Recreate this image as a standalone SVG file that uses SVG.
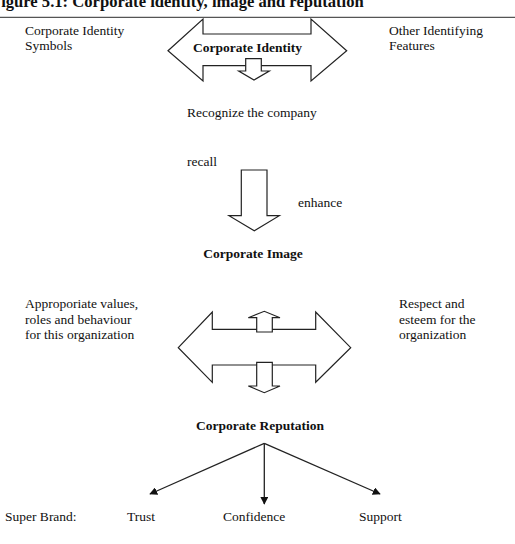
<svg xmlns="http://www.w3.org/2000/svg" width="515" height="544" viewBox="0 0 515 544">
<style>
.t{font-family:"Liberation Serif","Times New Roman",serif;font-size:13.5px;fill:#111}
.b{font-weight:bold}
.sh{fill:#fff;stroke:#222;stroke-width:1.2;stroke-linejoin:miter}
.c{stroke:#222;stroke-width:1.3;fill:none}
</style>
<defs>
<marker id="ah" viewBox="0 0 10 10" refX="9" refY="5" markerWidth="8" markerHeight="8" markerUnits="userSpaceOnUse" orient="auto">
<path d="M0,0 L10,5 L0,10 Z" fill="#111"/>
</marker>
</defs>
<rect width="515" height="544" fill="#fff"/>
<text class="t b" x="-9" y="7" style="font-size:16.6px">Figure 5.1: Corporate identity, image and reputation</text>

<g id="identity">
<path class="sh" d="M168,50.7 L203,19 L203,34 L311,34 L311,19 L346.7,50.7 L311,81 L311,65.7 L203,65.7 L203,81 Z"/>
<path class="sh" d="M245.7,58.7 L261.3,58.7 L261.3,71 L269.3,71 L254,80 L238.7,71 L245.7,71 Z"/>
<text class="t b" x="247.5" y="52" text-anchor="middle">Corporate Identity</text>
</g>
<line x1="0" y1="17.3" x2="515" y2="17.3" stroke="#555" stroke-width="1.3"/>

<g id="symbols"><text class="t" x="25" y="35">Corporate Identity</text><text class="t" x="25" y="50">Symbols</text></g>
<g id="features"><text class="t" x="389" y="35">Other Identifying</text><text class="t" x="389" y="50">Features</text></g>
<g id="recognize"><text class="t" x="187" y="117">Recognize the company</text></g>
<g id="recall"><text class="t" x="187" y="166">recall</text></g>
<g id="enhance"><text class="t" x="298" y="207">enhance</text></g>

<g id="bigarrow">
<path class="sh" d="M241.3,170 L267,170 L267,215.7 L279.3,215.7 L254.3,230.7 L229,215.7 L241.3,215.7 Z"/>
</g>

<g id="image"><text class="t b" x="253" y="258" text-anchor="middle">Corporate Image</text></g>

<g id="values"><text class="t" x="25" y="308">Approporiate values,</text><text class="t" x="25" y="324">roles and behaviour</text><text class="t" x="25" y="339">for this organization</text></g>
<g id="respect"><text class="t" x="399" y="308">Respect and</text><text class="t" x="399" y="324">esteem for the</text><text class="t" x="399" y="339">organization</text></g>

<g id="imagearrow">
<path class="sh" d="M178.3,347.7 L212.3,312 L212.3,329.3 L315.7,329.3 L315.7,312 L350.7,347.7 L315.7,382.3 L315.7,365 L212.3,365 L212.3,382.3 Z"/>
<path class="sh" d="M256.7,332 L272.3,332 L272.3,317.7 L280,317.7 L264.3,311.3 L248.3,317.7 L256.7,317.7 Z"/>
<path class="sh" d="M256.7,362.3 L272.3,362.3 L272.3,386 L280,386 L264.3,392.7 L248.3,386 L256.7,386 Z"/>
</g>

<g id="reputation"><text class="t b" x="260" y="430" text-anchor="middle">Corporate Reputation</text></g>

<g id="connectors">
<line class="c" x1="264.3" y1="443.3" x2="150" y2="494" marker-end="url(#ah)"/>
<line class="c" x1="264.3" y1="443.3" x2="264.3" y2="504" marker-end="url(#ah)"/>
<line class="c" x1="264.3" y1="443.3" x2="380" y2="494" marker-end="url(#ah)"/>
</g>

<g id="superbrand"><text class="t" x="5" y="521">Super Brand:</text></g>
<g id="trust"><text class="t" x="127" y="521">Trust</text></g>
<g id="confidence"><text class="t" x="223" y="521">Confidence</text></g>
<g id="support"><text class="t" x="359" y="521">Support</text></g>
</svg>
